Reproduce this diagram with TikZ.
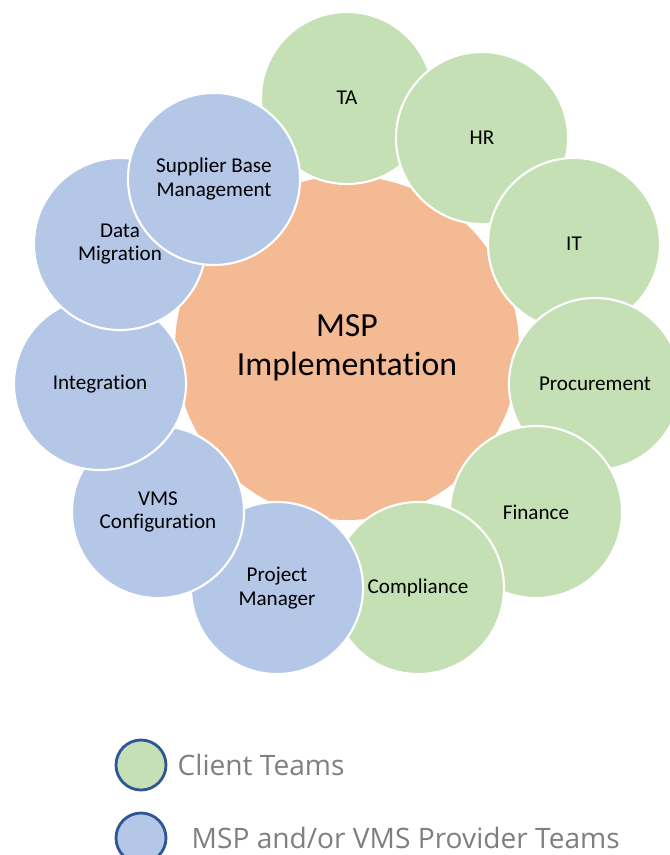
\documentclass[tikz,border=0pt]{standalone}
\usepackage{fontspec}
\setmainfont{Carlito}[Ligatures=NoCommon]
\newfontfamily\legendfont{Open Sans}
\usepackage{xcolor}
\usepackage{tikz}
\usetikzlibrary{shapes.geometric, positioning}

\definecolor{clientgreen}{HTML}{C5E0B4}
\definecolor{providerblue}{HTML}{B4C7E7}
\definecolor{hubpeach}{HTML}{F4BA94}
\definecolor{legendrim}{HTML}{2F5597}
\definecolor{legendgrey}{HTML}{7F7F7F}

\begin{document}
\begin{tikzpicture}[x=0.025cm, y=0.025cm,
  team/.style={circle, draw=white, line width=1.5pt, minimum size=4.3cm, inner sep=0pt, align=center, font=\fontsize{15}{17}\selectfont},
  client/.style={team, fill=clientgreen},
  provider/.style={team, fill=providerblue},
  hub/.style={regular polygon, regular polygon sides=11, shape border rotate=180, minimum size=8.8cm, fill=hubpeach, align=center, font=\fontsize{24}{28}\selectfont},
  legendkey/.style={circle, draw=legendrim, line width=2pt, minimum size=1.25cm},
  legendtext/.style={inner sep=0pt, text=legendgrey, font=\legendfont\fontsize{20}{24}\selectfont}]
\useasboundingbox (0,0) rectangle (670,-855);
\clip (0,0) rectangle (670,-855);

% centre shape, tips cut off a little
\begin{scope}
\clip (347,-348) circle [radius=172];
\node[hub] (hub) at (347,-348) {MSP\\Implementation};
\end{scope}

% ring of teams, clockwise from the top
\node[client] (ta) at (347,-98) {TA};
\node[client] (hr) at (482,-138) {HR};
\node[client] (it) at (574,-244) {IT};
\node[client] (procurement) at (595,-384) {Procurement};
\node[client] (finance) at (536,-512) {Finance};
\node[client] (compliance) at (418,-588) {Compliance};
\node[provider] (manager) at (277,-588) {Project\\Manager};
\node[provider] (vms) at (158,-512) {VMS\\Configuration};
\node[provider] (integration) at (100,-384) {Integration};
\node[provider] (migration) at (120,-244) {Data\\Migration};
\node[provider] (supplier) at (214,-179) {Supplier Base\\Management};

% legend
\node[legendkey, fill=clientgreen] (clientkey) at (141,-765) {};
\node[legendtext, right=0.25cm of clientkey] (clientlabel) {Client Teams};
\node[legendkey, fill=providerblue] (providerkey) at (141,-838) {};
\node[legendtext, right=0.6cm of providerkey] (providerlabel) {MSP and/or VMS Provider Teams};
\end{tikzpicture}
\end{document}
